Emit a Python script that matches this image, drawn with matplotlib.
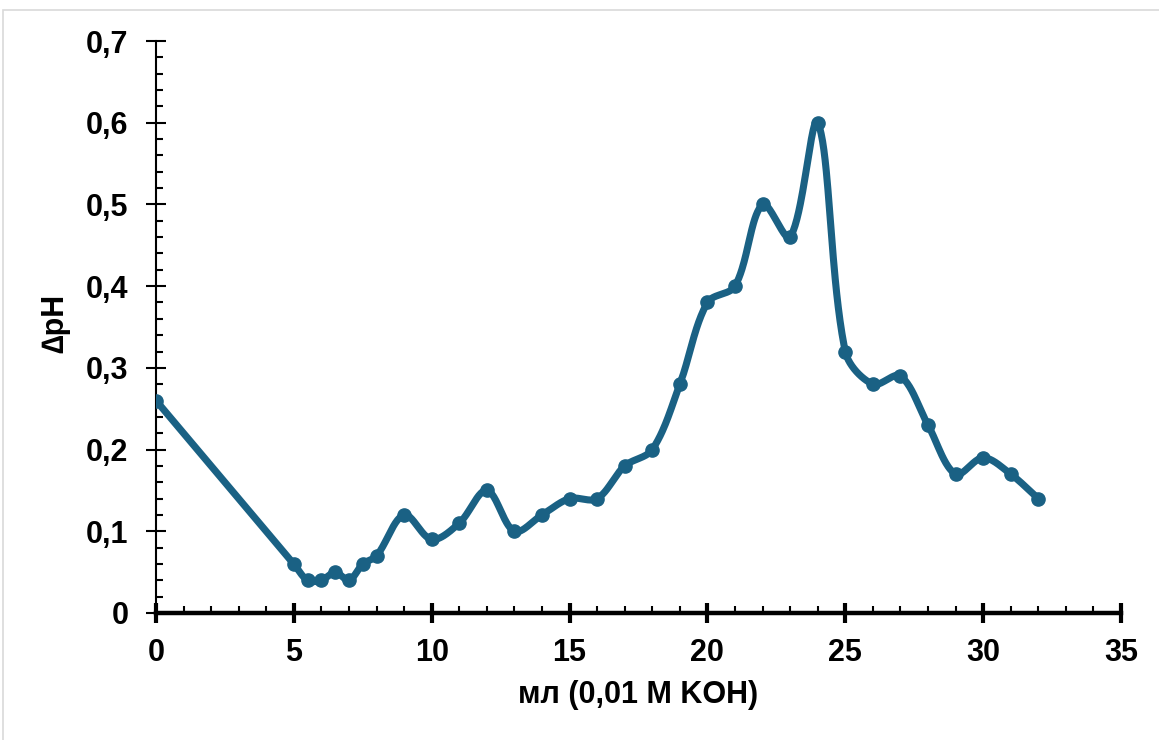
import numpy as np
import matplotlib.pyplot as plt
from matplotlib.ticker import MultipleLocator, FuncFormatter
from matplotlib.patches import Rectangle

# titration data (ml of 0.01 M KOH vs delta pH)
volume_ml = [0, 5, 5.5, 6, 6.5, 7, 7.5, 8, 9, 10, 11, 12, 13, 14, 15, 16,
             17, 18, 19, 20, 21, 22, 23, 24, 25, 26, 27, 28, 29, 30, 31, 32]
delta_ph = [0.26, 0.06, 0.04, 0.04, 0.05, 0.04, 0.06, 0.07, 0.12, 0.09, 0.11,
            0.15, 0.10, 0.12, 0.14, 0.14, 0.18, 0.20, 0.28, 0.38, 0.40, 0.50,
            0.46, 0.60, 0.32, 0.28, 0.29, 0.23, 0.17, 0.19, 0.17, 0.14]

x_label = "мл (0,01 M KOH)"
y_label = "∆pH"

color = "#1a6184"
plt.rcParams['font.family'] = ['Liberation Sans', 'DejaVu Sans']
plt.rcParams['font.weight'] = 'bold'

W, H = 1159, 740
ax_box = (156, 41, 965, 572)  # left, top, width, height in px
xmax, ymax = 35, 0.7


def smooth_curve(xs, ys, kx, ky, n=40):
    # bezier spline similar to Excel smoothed lines, handles weighted by chord lengths (screen space)
    p = np.column_stack([np.asarray(xs, float) * kx, np.asarray(ys, float) * ky])
    m = len(p)
    out = []
    for i in range(m - 1):
        a, b = p[i], p[i + 1]
        d_ab = np.linalg.norm(b - a)
        if i > 0:
            prv = p[i - 1]
            t0 = b - prv
            w = d_ab / (np.linalg.norm(a - prv) + d_ab)
            c1 = a + t0 * w / 3
        else:
            c1 = a + (b - a) / 3
        if i + 2 < m:
            nxt = p[i + 2]
            t1 = nxt - a
            w = d_ab / (d_ab + np.linalg.norm(nxt - b))
            c2 = b - t1 * w / 3
        else:
            c2 = b - (b - a) / 3
        t = np.linspace(0, 1, n)[:, None]
        seg = ((1 - t) ** 3 * a + 3 * (1 - t) ** 2 * t * c1
               + 3 * (1 - t) * t ** 2 * c2 + t ** 3 * b)
        out.append(seg if i == 0 else seg[1:])
    out = np.vstack(out)
    return out[:, 0] / kx, out[:, 1] / ky


fig = plt.figure(figsize=(W / 100, H / 100), dpi=100)
ax = fig.add_axes([ax_box[0] / W, 1 - (ax_box[1] + ax_box[3]) / H,
                   ax_box[2] / W, ax_box[3] / H])

# light outer chart border
fig.patches.append(Rectangle((3 / W, -0.05), 1.05, 1 - 10 / H + 0.05,
                             transform=fig.transFigure, fill=False,
                             edgecolor='#d9d9d9', lw=1.2))

sx, sy = smooth_curve(volume_ml, delta_ph, ax_box[2] / xmax, ax_box[3] / ymax)
ax.plot(sx, sy, color=color, lw=5.1, solid_capstyle='round',
        solid_joinstyle='round', zorder=3)
ax.plot(volume_ml, delta_ph, 'o', color=color, ms=9.5, zorder=4)

ax.set_xlim(0, xmax)
ax.set_ylim(0, ymax)
ax.xaxis.set_major_locator(MultipleLocator(5))
ax.xaxis.set_minor_locator(MultipleLocator(1))
ax.yaxis.set_major_locator(MultipleLocator(0.1))
ax.yaxis.set_minor_locator(MultipleLocator(0.02))
ax.xaxis.set_major_formatter(FuncFormatter(lambda v, pos: f"{v:.0f}"))
ax.yaxis.set_major_formatter(
    FuncFormatter(lambda v, pos: "0" if abs(v) < 1e-9 else f"{v:.1f}".replace('.', ',')))

for s in ['top', 'right']:
    ax.spines[s].set_visible(False)
ax.spines['bottom'].set_linewidth(3.2)
ax.spines['left'].set_linewidth(1.5)

ax.tick_params(axis='x', which='major', direction='inout', length=14.4, width=3,
               labelsize=22, pad=11)
ax.tick_params(axis='x', which='minor', direction='in', length=5, width=1.5)
ax.tick_params(axis='y', which='major', direction='inout', length=13.7, width=1.5,
               labelsize=22, pad=13)
ax.tick_params(axis='y', which='minor', direction='in', length=5, width=1.5)

ax.set_xlabel(x_label, fontsize=22, fontweight='bold')
ax.set_ylabel(y_label, fontsize=22, fontweight='bold')
ax.xaxis.set_label_coords(0.5, -0.117)
ax.yaxis.set_label_coords(-0.089, 0.507)

fig.savefig("out.png", dpi=100)
